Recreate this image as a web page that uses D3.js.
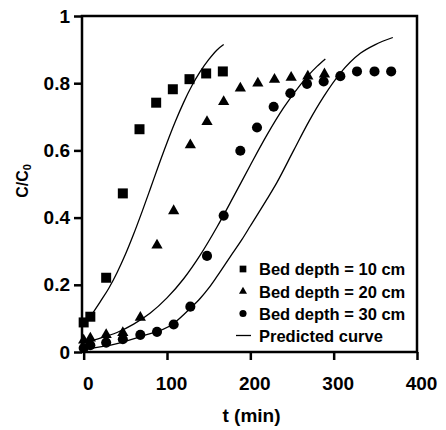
<!DOCTYPE html>
<html>
<head>
<meta charset="utf-8">
<script src="https://cdn.jsdelivr.net/npm/d3@7"></script>
<style>
  body { margin: 0; background: #fff; }
  svg { display: block; font-family: "Liberation Sans", Arial, sans-serif; font-weight: bold; }
</style>
</head>
<body>
<svg id="chart" width="446" height="430"></svg>
<script>
// Measured data (t in min, C/C0)
const t10 = [0, 8, 27, 47, 67, 87, 107, 127, 147, 167];
const c10 = [0.088, 0.105, 0.221, 0.472, 0.663, 0.742, 0.782, 0.812, 0.829, 0.835];

const t20 = [0, 8, 27, 47, 68, 88, 108, 128, 148, 168, 188, 209, 229, 249, 269, 289];
const c20 = [0.035, 0.041, 0.051, 0.057, 0.103, 0.318, 0.42, 0.616, 0.685, 0.745, 0.785, 0.8, 0.811, 0.817, 0.821, 0.827];

const t30 = [0, 8, 27, 47, 68, 88, 108, 128, 148, 168, 188, 208, 228, 248, 268, 288, 308, 328, 349, 369];
const c30 = [0.012, 0.02, 0.028, 0.038, 0.051, 0.06, 0.082, 0.135, 0.286, 0.406, 0.599, 0.668, 0.73, 0.77, 0.798, 0.805, 0.821, 0.835, 0.835, 0.835];

// Predicted curves
const pt10 = [8, 20, 30, 40, 50, 60, 70, 80, 90, 100, 110, 120, 130, 140, 150, 160, 168];
const pc10 = [0.105, 0.15, 0.189, 0.236, 0.29, 0.351, 0.417, 0.486, 0.556, 0.623, 0.686, 0.743, 0.793, 0.835, 0.87, 0.899, 0.915];

const pt20 = [0, 20, 40, 60, 80, 100, 120, 140, 160, 180, 200, 220, 240, 260, 280, 290];
const pc20 = [0.028, 0.041, 0.058, 0.083, 0.116, 0.161, 0.218, 0.289, 0.372, 0.463, 0.556, 0.646, 0.727, 0.795, 0.85, 0.872];

const pt30 = [0, 40, 68, 108, 128, 140, 150, 160, 176, 190, 200, 220, 232, 252, 270, 288, 308, 332, 350, 371];
const pc30 = [0.008, 0.025, 0.046, 0.085, 0.13, 0.16, 0.19, 0.225, 0.284, 0.335, 0.375, 0.455, 0.505, 0.6, 0.685, 0.76, 0.83, 0.889, 0.915, 0.936];

const xTicks = [0, 100, 200, 300, 400];
const yTicks = [0, 0.2, 0.4, 0.6, 0.8, 1];
const legendLabels = ["Bed depth = 10 cm", "Bed depth = 20 cm", "Bed depth = 30 cm", "Predicted curve"];

const svg = d3.select("#chart");
const m = { left: 82, right: 417, top: 16, bottom: 352 };

const x = d3.scaleLinear().domain([-2, 400]).range([m.left, m.right]);
const y = d3.scaleLinear().domain([0, 1]).range([m.bottom, m.top]);

// frame
svg.append("rect")
  .attr("x", m.left).attr("y", m.top)
  .attr("width", m.right - m.left).attr("height", m.bottom - m.top)
  .attr("fill", "none").attr("stroke", "#000").attr("stroke-width", 2.5);

// axes
const xAxis = svg.append("g")
  .attr("transform", `translate(0,${m.bottom})`)
  .call(d3.axisBottom(x).tickValues(xTicks).tickSize(8).tickPadding(17).tickFormat(d3.format("d")));
xAxis.select(".domain").remove();
xAxis.selectAll("line").attr("stroke-width", 2.5);
xAxis.selectAll("text").attr("dx", 4).style("font-size", "19px");

const yAxis = svg.append("g")
  .attr("transform", `translate(${m.left},0)`)
  .call(d3.axisLeft(y).tickValues(yTicks).tickSize(8).tickPadding(4)
    .tickFormat(d => (d === 0 || d === 1) ? d : d.toFixed(1)));
yAxis.select(".domain").remove();
yAxis.selectAll("line").attr("stroke-width", 2.5);
yAxis.selectAll("text").style("font-size", "19px");
xAxis.attr("font-family", null);
yAxis.attr("font-family", null);

// axis titles
svg.append("text")
  .attr("x", (m.left + m.right) / 2 + 2).attr("y", 422)
  .attr("text-anchor", "middle").style("font-size", "19px")
  .text("t (min)");

const yt = svg.append("text")
  .attr("transform", "translate(28,181) rotate(-90)")
  .attr("text-anchor", "middle").style("font-size", "16px");
yt.append("tspan").text("C/C");
yt.append("tspan").attr("dy", 3).style("font-size", "11px").text("0");

// predicted curves
const line = d3.line().x(d => x(d[0])).y(d => y(d[1])).curve(d3.curveMonotoneX);
[[pt10, pc10], [pt20, pc20], [pt30, pc30]].forEach(([ts, cs]) => {
  svg.append("path")
    .datum(ts.map((t, i) => [t, cs[i]]))
    .attr("d", line)
    .attr("fill", "none").attr("stroke", "#000").attr("stroke-width", 1.3);
});

// points
const series = [
  { t: t10, c: c10, sym: d3.symbolSquare, size: 100 },
  { t: t20, c: c20, sym: d3.symbolTriangle, size: 55 },
  { t: t30, c: c30, sym: d3.symbolCircle, size: 80 }
];
series.forEach(s => {
  svg.append("g").selectAll("path")
    .data(s.t.map((t, i) => [t, s.c[i]]))
    .join("path")
    .attr("transform", d => `translate(${x(d[0])},${y(d[1])})`)
    .attr("d", d3.symbol().type(s.sym).size(s.size))
    .attr("fill", "#000");
});

// legend
const legY = [269, 291.5, 313.5, 335.5];
const legSyms = [[d3.symbolSquare, 45], [d3.symbolTriangle, 28], [d3.symbolCircle, 40]];
const leg = svg.append("g");
legendLabels.forEach((lab, i) => {
  if (i < 3) {
    leg.append("path")
      .attr("transform", `translate(243,${legY[i]})`)
      .attr("d", d3.symbol().type(legSyms[i][0]).size(legSyms[i][1]))
      .attr("fill", "#000");
  } else {
    leg.append("line")
      .attr("x1", 236).attr("x2", 251)
      .attr("y1", legY[i]).attr("y2", legY[i])
      .attr("stroke", "#000").attr("stroke-width", 1.3);
  }
  leg.append("text")
    .attr("x", 259).attr("y", legY[i] + 6)
    .style("font-size", "16.5px")
    .text(lab);
});
</script>
</body>
</html>
